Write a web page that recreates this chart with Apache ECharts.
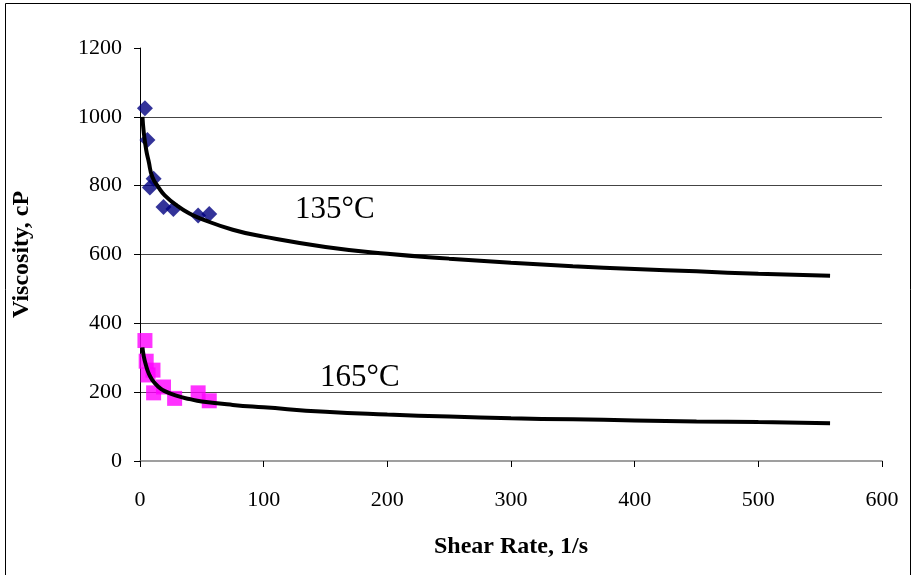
<!DOCTYPE html>
<html>
<head>
<meta charset="utf-8">
<script src="https://cdn.jsdelivr.net/npm/echarts@6/dist/echarts.min.js"></script>
<style>
html,body{margin:0;padding:0;background:#fff;}
#chart{width:912px;height:575px;}
</style>
</head>
<body>
<div id="chart"></div>
<script>
// Measured points at 135°C: [shear rate, viscosity]
var points135 = [[4,1025],[6,933],[8,795],[11,820],[19,738],[27,732],[47,713],[56,718]];
// Measured points at 165°C
var points165 = [[4,350],[5,290],[6.5,250],[10.5,264],[11,198],[19,215],[28,182],[47,198],[56,175]];
// Trendline
var trendX = [2,3,5,7,10,15,20,30,40,50,75,100,150,200,250,300,350,400,450,500,558];
var trend135 = [1000,956,904,871,825,795,772,742,719,703,672,652,622,602,588,576,566,558,551,544,538];
var trend165 = [330,305,276,255,235,215,203,189,180,173,163,156,143,135,129,124,121,118,115,113,110];
var xTicks = [0,100,200,300,400,500,600];
var yTicks = [0,200,400,600,800,1000,1200];
var labels = ['135°C','165°C'];

function zip(xs, ys){ return xs.map(function(x,i){ return [x, ys[i]]; }); }

var chart = echarts.init(document.getElementById('chart'), null, {renderer:'canvas'});
var font = '"Liberation Serif", "Times New Roman", serif';
chart.setOption({
  animation:false,
  backgroundColor:'#fff',
  grid:{left:140, top:48, right:30, bottom:114, containLabel:false},
  xAxis:{
    type:'value', min:xTicks[0], max:xTicks[xTicks.length-1], interval:100,
    name:'Shear Rate, 1/s', nameLocation:'middle', nameGap:74,
    nameTextStyle:{fontFamily:font, fontSize:24, fontWeight:'bold', color:'#000'},
    axisLine:{show:true, onZero:false, lineStyle:{color:'#808080', width:1.5}},
    axisTick:{show:true, inside:false, length:6, lineStyle:{color:'#000'}},
    axisLabel:{fontFamily:font, fontSize:22, color:'#000', margin:28, formatter:function(v){return String(v);}},
    splitLine:{show:false}
  },
  yAxis:{
    type:'value', min:yTicks[0], max:yTicks[yTicks.length-1], interval:200,
    name:'Viscosity, cP', nameLocation:'middle', nameGap:106, nameRotate:90,
    nameTextStyle:{fontFamily:font, fontSize:24, fontWeight:'bold', color:'#000'},
    axisLine:{show:true, onZero:false, lineStyle:{color:'#000', width:1}},
    axisTick:{show:true, inside:false, length:6, lineStyle:{color:'#000'}},
    axisLabel:{fontFamily:font, fontSize:22, color:'#000', margin:18, formatter:function(v){return String(v);}},
    splitLine:{show:true, showMinLine:false, showMaxLine:false, lineStyle:{color:'#444', width:1}}
  },
  series:[
    {type:'scatter', data:points135, symbol:'diamond', symbolSize:[16,16], itemStyle:{color:'#000080'}, z:2},
    {type:'scatter', data:points165, symbol:'rect', symbolSize:15, itemStyle:{color:'#FF00FF'}, z:2},
    {type:'line', data:zip(trendX,trend135), smooth:true, showSymbol:false, symbol:'none', lineStyle:{color:'#000', width:4}, z:3},
    {type:'line', data:zip(trendX,trend165), smooth:true, showSymbol:false, symbol:'none', lineStyle:{color:'#000', width:4}, z:3}
  ],
  graphic:[
    {type:'rect', shape:{x:5.5, y:3.5, width:905, height:600}, style:{fill:'none', stroke:'#000', lineWidth:1}, silent:true},
    {type:'text', left:295, top:194, style:{text:labels[0], font:'31px ' + font, fill:'#000'}},
    {type:'text', left:320, top:362, style:{text:labels[1], font:'31px ' + font, fill:'#000'}}
  ]
});
</script>
</body>
</html>
